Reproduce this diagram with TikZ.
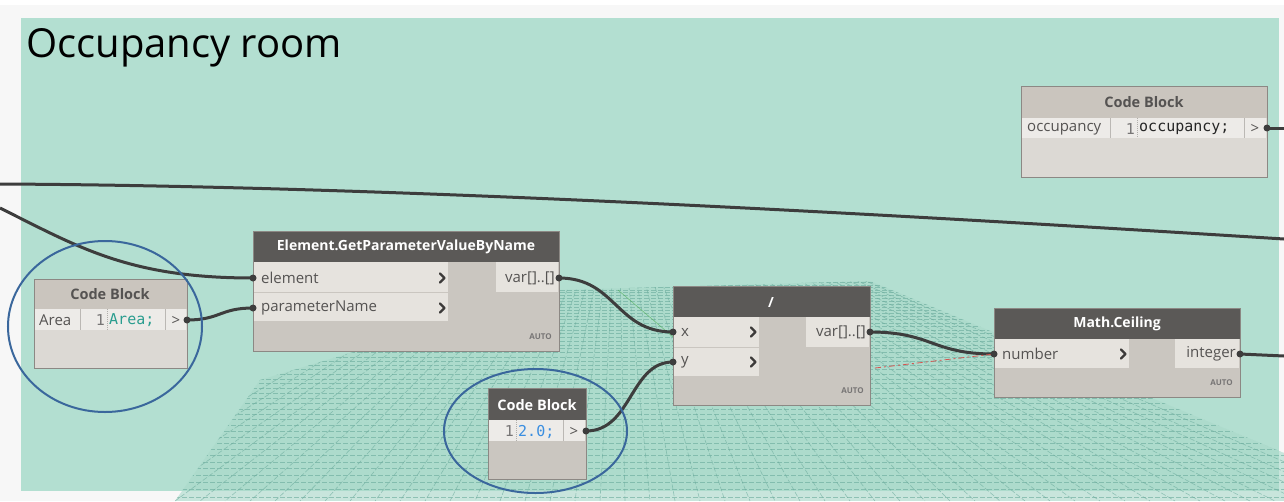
\documentclass[tikz,border=0pt]{standalone}
\usepackage{fontspec}
\setmainfont{Open Sans}
\setmonofont{DejaVu Sans Mono}

\definecolor{pagebg}{HTML}{F7F7F7}
\definecolor{groupbg}{HTML}{B3DFD1}
\definecolor{gridfill}{HTML}{A9D9CA}
\definecolor{gridline}{HTML}{68A99A}
\definecolor{hdrdark}{HTML}{5B5957}
\definecolor{hdrlight}{HTML}{CAC5BE}
\definecolor{bodyfn}{HTML}{CAC6C0}
\definecolor{bodycb}{HTML}{DCD9D4}
\definecolor{cellbg}{HTML}{E6E3DE}
\definecolor{rowbg}{HTML}{EDEBE8}
\definecolor{nodeedge}{HTML}{8C8884}
\definecolor{txtgray}{HTML}{555352}
\definecolor{wirecol}{HTML}{3D3D3D}
\definecolor{ringcol}{HTML}{3A679C}
\definecolor{codeteal}{HTML}{2A9D8F}
\definecolor{codeblue}{HTML}{3A8EE0}
\definecolor{previewred}{HTML}{D9534F}
\definecolor{axisgreen}{HTML}{4CAF50}

\tikzset{
  nodebox/.style={draw=nodeedge, line width=0.8pt, anchor=north west, inner sep=0pt},
  hdrtext/.style={font=\bfseries\fontsize{14}{14}\selectfont, text=white},
  cbtext/.style={font=\bfseries\fontsize{14.5}{14.5}\selectfont, text=txtgray},
  porttext/.style={font=\fontsize{15}{15}\selectfont, text=txtgray, inner sep=0pt},
  codetext/.style={font=\ttfamily\fontsize{15}{15}\selectfont, inner sep=0pt},
  autotext/.style={font=\bfseries\fontsize{8}{8}\selectfont, text=txtgray!80, inner sep=0pt, anchor=east},
  chev/.style={draw=txtgray!70!black, line width=2.2pt, line cap=round, line join=round},
  wire/.style={draw=wirecol, line width=3pt},
  portdot/.style={fill=wirecol},
  ring/.style={draw=ringcol, line width=2pt},
  gridln/.style={draw=gridline, line width=0.6pt, opacity=0.6, dash pattern=on 5pt off 2pt}
}

\begin{document}
\begin{tikzpicture}[x=1pt,y=-1pt]
\useasboundingbox (0,0) rectangle (1284,501);
\fill[pagebg] (0,0) rectangle (1284,501);
\fill[white] (0,0) rectangle (1284,5);
\fill[groupbg] (21,18) rectangle (1279,491);

% perspective floor grid
\begin{scope}
  \clip (175,501) -- (260,380) -- (560,290) -- (870,281) -- (1284,453) -- (1284,501) -- cycle;
  \fill[gridfill, opacity=0.6] (0,0) rectangle (1284,501);
  \foreach \xb in {-1600,-1575,...,3000}
    \draw[gridln] (618,174) -- (\xb,501);
  \foreach \k in {0,...,50}{
    \pgfmathsetmacro{\yy}{174+106*1.023^\k}
    \draw[gridln] (0,\yy) -- (1284,\yy);
  }
  \draw[axisgreen, line width=0.5pt, opacity=0.7] (618,290) -- (700,360);
\end{scope}

% group title
\node[anchor=base west, inner sep=0pt, font=\fontsize{40}{40}\selectfont] (title) at (26,57) {Occupancy room};

% long wire passing through the group
\draw[wire] (0,184) .. controls (400,186) and (900,215) .. (1284,239);
\coordinate (leftsrc) at (0,208);

% ---------- Code Block: occupancy ----------
\node[nodebox, fill=bodycb, minimum width=246, minimum height=91] (cbo) at (1021,86) {};
\fill[hdrlight] (1021,86) rectangle (1267,118);
\node[cbtext] (cbo-h) at (1144,102) {Code Block};
\fill[rowbg] (1021,118) rectangle (1266,138);
\draw[bodycb!85!black, line width=0.6pt] (1110,118) -- (1110,138) (1244,118) -- (1244,138);
\draw[bodycb!80!black, line width=0.5pt, dash pattern=on 1pt off 1pt] (1137,118) -- (1137,138);
\node[porttext, anchor=west] (cbo-var) at (1027,129) {occupancy};
\node[codetext, text=txtgray!80, anchor=east] (cbo-ln) at (1135,129) {1};
\node[codetext, text=black!85, anchor=west] (cbo-code) at (1139,129) {occupancy;};
\node[porttext, anchor=center] (cbo-out) at (1255,129) {>};
\draw[nodeedge, line width=0.8pt] (1021,86) rectangle (1267,177);
\coordinate (cbo-port) at (1267,128);
\coordinate (rightedge1) at (1284,128);

% ---------- Code Block: Area ----------
\node[nodebox, fill=bodycb, minimum width=153, minimum height=89] (cba) at (34,279) {};
\fill[hdrlight] (34,279) rectangle (187,309);
\node[cbtext] (cba-h) at (110,294) {Code Block};
\fill[rowbg] (34,309) rectangle (186,330);
\draw[bodycb!85!black, line width=0.6pt] (80,309) -- (80,330) (165,309) -- (165,330);
\draw[bodycb!80!black, line width=0.5pt, dash pattern=on 1pt off 1pt] (107,309) -- (107,330);
\node[porttext, anchor=west] (cba-var) at (39,320.5) {Area};
\node[codetext, text=txtgray!80, anchor=east] (cba-ln) at (105,320.5) {1};
\node[codetext, text=codeteal, anchor=west] (cba-code) at (109,320.5) {Area;};
\node[porttext, anchor=center] (cba-out) at (176,320.5) {>};
\draw[nodeedge, line width=0.8pt] (34,279) rectangle (187,368);
\coordinate (cba-port) at (187,320);

% ---------- Element.GetParameterValueByName ----------
\node[nodebox, fill=bodyfn, minimum width=306, minimum height=120] (eg) at (253,231) {};
\fill[hdrdark] (253,231) rectangle (559,262);
\node[hdrtext] (eg-h) at (406,247) {Element.GetParameterValueByName};
\fill[cellbg] (253,262) rectangle (448,291.5);
\fill[cellbg] (253,292.5) rectangle (448,321);
\fill[cellbg] (496,262) rectangle (558,292);
\node[porttext, anchor=west] (eg-in1) at (261,278) {element};
\node[porttext, anchor=west] (eg-in2) at (261,308) {parameterName};
\node[porttext, anchor=east] (eg-o1) at (555,278) {var[]..[]};
\draw[chev] (440,273.5) -- (444.5,278) -- (440,282.5);
\draw[chev] (440,303.5) -- (444.5,308) -- (440,312.5);
\node[autotext] (eg-auto) at (552,337) {AUTO};
\draw[nodeedge, line width=0.8pt] (253,231) rectangle (559,351);
\coordinate (eg-p1) at (253,278);
\coordinate (eg-p2) at (253,308);
\coordinate (eg-po) at (559,278);

% ---------- Division "/" ----------
\node[nodebox, fill=bodyfn, minimum width=197, minimum height=119] (dv) at (673,286) {};
\fill[hdrdark] (673,286) rectangle (870,317);
\node[hdrtext] (dv-h) at (771,302) {/};
\fill[cellbg] (673,317) rectangle (759,346.5);
\fill[cellbg] (673,347.5) rectangle (759,376);
\fill[cellbg] (806,317) rectangle (869,347);
\node[porttext, anchor=west] (dv-in1) at (681,332) {x};
\node[porttext, anchor=west] (dv-in2) at (681,362) {y};
\node[porttext, anchor=east] (dv-o1) at (866,332) {var[]..[]};
\draw[chev] (751,327.5) -- (755.5,332) -- (751,336.5);
\draw[chev] (751,357.5) -- (755.5,362) -- (751,366.5);
\node[autotext] (dv-auto) at (864,391) {AUTO};
\draw[nodeedge, line width=0.8pt] (673,286) rectangle (870,405);
\coordinate (dv-p1) at (673,332);
\coordinate (dv-p2) at (673,362);
\coordinate (dv-po) at (870,332);

% ---------- Math.Ceiling ----------
\node[nodebox, fill=bodyfn, minimum width=246, minimum height=89] (mc) at (994,308) {};
\fill[hdrdark] (994,308) rectangle (1240,339);
\node[hdrtext] (mc-h) at (1117,324) {Math.Ceiling};
\fill[cellbg] (994,339) rectangle (1129,368);
\fill[cellbg] (1175,339) rectangle (1239,368);
\node[porttext, anchor=west] (mc-in1) at (1002,354) {number};
\node[porttext, anchor=east] (mc-o1) at (1236,354) {integer};
\draw[chev] (1121,349.5) -- (1125.5,354) -- (1121,358.5);
\node[autotext] (mc-auto) at (1233,383) {AUTO};
\draw[nodeedge, line width=0.8pt] (994,308) rectangle (1240,397);
\coordinate (mc-p1) at (994,354);
\coordinate (mc-po) at (1240,354);
\coordinate (rightedge2) at (1284,356);

% ---------- Code Block: 2.0 ----------
\node[nodebox, fill=bodyfn, minimum width=98, minimum height=91] (cbn) at (488,388) {};
\fill[hdrdark] (488,388) rectangle (586,420);
\node[hdrtext, font=\bfseries\fontsize{14.5}{14.5}\selectfont] (cbn-h) at (537,405) {Code Block};
\fill[rowbg] (488,420) rectangle (585,441);
\draw[bodycb!85!black, line width=0.6pt] (563,420) -- (563,441);
\draw[bodycb!80!black, line width=0.5pt, dash pattern=on 1pt off 1pt] (516,420) -- (516,441);
\node[codetext, text=txtgray!80, anchor=east] (cbn-ln) at (514,431.5) {1};
\node[codetext, text=codeblue, anchor=west] (cbn-code) at (518,431.5) {2.0;};
\node[porttext, anchor=center] (cbn-out) at (574,431.5) {>};
\draw[nodeedge, line width=0.8pt] (488,388) rectangle (586,479);
\coordinate (cbn-port) at (586,431);

% ---------- connectors ----------
\draw[wire] (leftsrc) .. controls (80,248) and (130,278) .. (eg-p1);
\draw[wire] (cba-port) .. controls (220,320) and (220,308) .. (eg-p2);
\draw[wire] (eg-po) .. controls (616,278) and (616,332) .. (dv-p1);
\draw[wire] (cbn-port) .. controls (632,431) and (630,362) .. (dv-p2);
\draw[wire] (dv-po) .. controls (932,332) and (932,354) .. (mc-p1);
\draw[wire] (mc-po) -- (rightedge2);
\draw[wire] (cbo-port) -- (rightedge1);
\coordinate (previewstart) at (875,368);
\draw[previewred, line width=0.8pt, dash pattern=on 6pt off 3pt on 2pt off 3pt] (previewstart) -- (mc-p1);

% port markers
\foreach \p in {eg-p1,eg-p2,eg-po,dv-p1,dv-p2,dv-po,mc-p1,mc-po,cba-port,cbn-port,cbo-port}
  \fill[portdot] (\p) circle (3.5);

% highlight rings
\draw[ring] (105,326.5) ellipse (97 and 85.5);
\draw[ring] (535.5,431) ellipse (91.5 and 62);
\end{tikzpicture}
\end{document}
